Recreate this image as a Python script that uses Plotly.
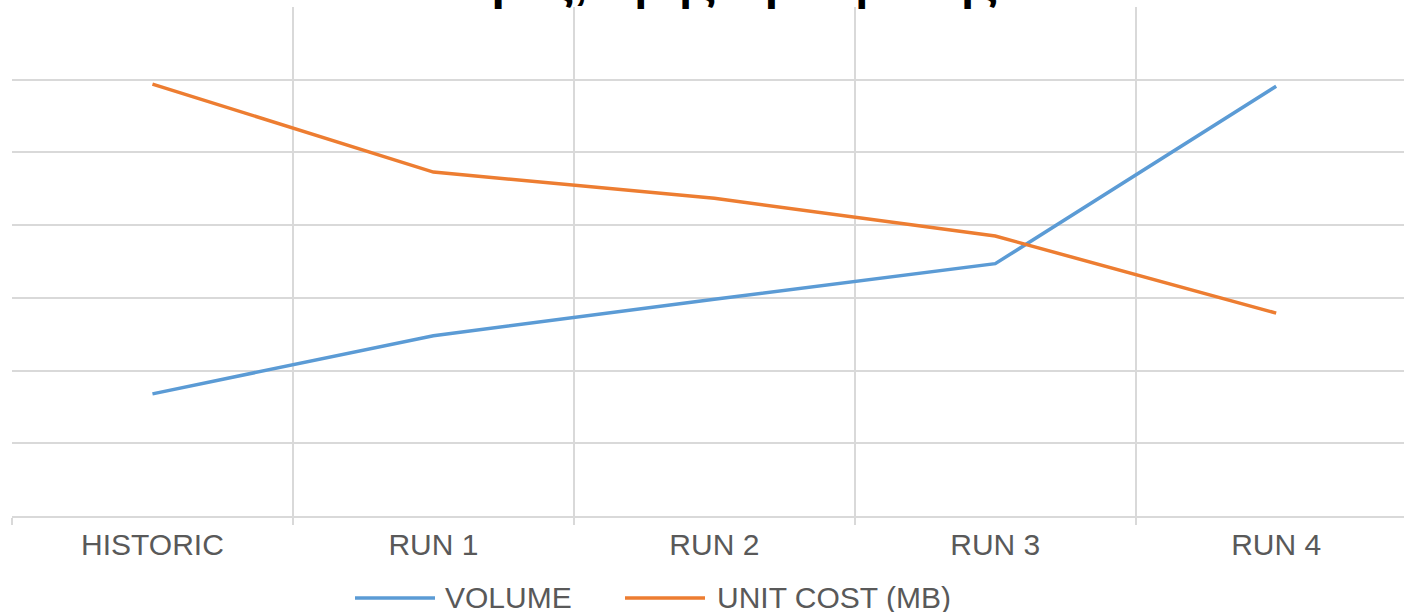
import plotly.graph_objects as go

categories = ["HISTORIC", "RUN 1", "RUN 2", "RUN 3", "RUN 4"]
volume = [1.68, 2.48, 2.98, 3.47, 5.91]
unit_cost = [5.94, 4.73, 4.37, 3.85, 2.79]
series_names = ["VOLUME", "UNIT COST (MB)"]
series_colors = ["#5B9BD5", "#ED7D31"]
title_text = "Σωρός, τιμής πρόσβασης"

W, H = 1404, 612
ML, MR, MT, MB = 12, 0, 7, 96
PW, PH = W - ML - MR, H - MT - MB


def px_x(p):
    return (p - ML) / PW


def px_y(p):
    return (H - MB - p) / PH


fig = go.Figure()
for name, vals, col in zip(series_names, [volume, unit_cost], series_colors):
    fig.add_trace(go.Scatter(x=categories, y=vals, mode="lines", name=name,
                             line=dict(color=col, width=3.5), showlegend=False))

# legend drawn as keys + labels below the plot
legend_key_x = [(355, 435), (625, 705)]
legend_text_x = [443, 715]
legend_y = 597
shapes = []
annotations = []
for (x0, x1), tx, name, col in zip(legend_key_x, legend_text_x, series_names, series_colors):
    shapes.append(dict(type="line", xref="paper", yref="paper",
                       x0=px_x(x0), x1=px_x(x1), y0=px_y(legend_y + 1), y1=px_y(legend_y + 1),
                       line=dict(color=col, width=3.5)))
    annotations.append(dict(text=name, xref="paper", yref="paper", x=px_x(tx), y=px_y(legend_y),
                            xanchor="left", yanchor="middle", showarrow=False,
                            font=dict(size=30, color="#595959")))

annotations.append(dict(text="<b>" + title_text + "</b>", xref="paper", yref="paper",
                        x=px_x(711), y=1, xanchor="center", yanchor="bottom", yshift=-4,
                        showarrow=False, font=dict(size=47, color="black",
                                                   family="Liberation Sans, Arial, sans-serif")))

fig.update_layout(
    width=W, height=H,
    margin=dict(l=ML, r=MR, t=MT, b=MB),
    paper_bgcolor="white", plot_bgcolor="white",
    font=dict(family="Liberation Sans, Arial, sans-serif", color="#595959", size=30),
    showlegend=False,
    xaxis=dict(type="category", range=[-0.5, 4.455], tickson="boundaries",
               showgrid=True, gridcolor="#d9d9d9", gridwidth=2,
               ticks="outside", ticklen=7, tickcolor="#d9d9d9", tickwidth=2,
               showline=True, linecolor="#d9d9d9", linewidth=2, ticklabelstandoff=1,
               tickfont=dict(size=30, color="#595959"), zeroline=False, fixedrange=True,
               automargin=False),
    yaxis=dict(range=[0, 7], dtick=1, showgrid=True, gridcolor="#d9d9d9", gridwidth=2,
               showticklabels=False, zeroline=False, showline=False, fixedrange=True,
               automargin=False),
    shapes=shapes,
    annotations=annotations,
)
fig.write_html("out.html", config={"displayModeBar": False},
               post_script="document.body.style.margin='0px';document.body.style.overflow='hidden';")
